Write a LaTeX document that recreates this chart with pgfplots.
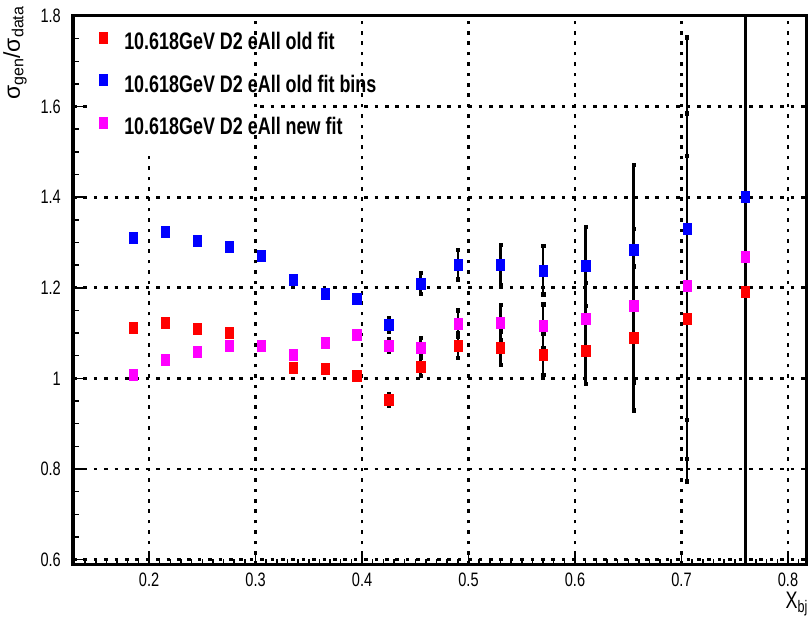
\documentclass[border=0pt]{standalone}
\usepackage{fontspec}
\setmainfont{Liberation Sans}[FakeStretch=0.75]
\newfontfamily\plainfont{Liberation Sans}
\usepackage{pgfplots}
\pgfplotsset{compat=1.18}
\usepackage{pgfplotstable}
\definecolor{rootred}{RGB}{255,0,0}
\definecolor{rootblue}{RGB}{0,0,255}
\definecolor{rootmag}{RGB}{255,0,255}

\pgfplotstableread{
x y e
0.185 1.112 0.0044
0.215 1.123 0.0045
0.245 1.110 0.0044
0.275 1.101 0.0044
0.305 1.073 0.0043
0.335 1.024 0.0041
0.365 1.021 0.0041
0.395 1.007 0.0040
0.425 0.953 0.0124
0.455 1.026 0.0195
0.490 1.073 0.0279
0.530 1.067 0.0373
0.570 1.053 0.0453
0.610 1.062 0.0743
0.655 1.089 0.159
0.705 1.132 0.359
0.760 1.192 0.954
}\redtab

\pgfplotstableread{
x y e
0.185 1.310 0.0052
0.215 1.325 0.0053
0.245 1.304 0.0052
0.275 1.291 0.0052
0.305 1.271 0.0051
0.335 1.218 0.0049
0.365 1.187 0.0047
0.395 1.177 0.0047
0.425 1.118 0.0145
0.455 1.210 0.0230
0.490 1.251 0.0325
0.530 1.251 0.0438
0.570 1.239 0.0533
0.610 1.248 0.0874
0.655 1.284 0.1875
0.705 1.331 0.422
0.760 1.401 1.121
}\bluetab

\pgfplotstableread{
x y e
0.185 1.008 0.0040
0.215 1.041 0.0042
0.245 1.059 0.0042
0.275 1.073 0.0043
0.305 1.072 0.0043
0.335 1.053 0.0042
0.365 1.080 0.0043
0.395 1.096 0.0044
0.425 1.073 0.0139
0.455 1.069 0.0203
0.490 1.121 0.0291
0.530 1.124 0.0393
0.570 1.116 0.0480
0.610 1.132 0.0792
0.655 1.161 0.1695
0.705 1.204 0.3817
0.760 1.268 1.014
}\magtab

\begin{document}
\begin{tikzpicture}
\begin{axis}[
  scale only axis, width=733bp, height=549bp,
  xmin=0.1286, xmax=0.8169, ymin=0.588, ymax=1.8,
  xtick={0.2,0.3,0.4,0.5,0.6,0.7,0.8},
  ytick={0.6,0.8,1,1.2,1.4,1.6,1.8},
  minor xtick={0.13,0.14,...,0.81},
  minor ytick={0.6,0.65,...,1.8},
  xtick pos=lower, ytick pos=left,
  tick align=inside,
  major tick length=12bp, minor tick length=6bp,
  tick style={black, line width=1.5bp},
  axis line style={line width=3bp},
  grid=major,
  major grid style={black, line width=2.8bp, dash pattern=on 3.5bp off 6.9bp},
  /pgf/number format/assume math mode=true,
  ticklabel style={font=\fontsize{19.5}{22}\selectfont},
  xticklabel style={inner sep=0pt, anchor=north, yshift=-8bp},
  yticklabel style={inner sep=0pt, anchor=east, xshift=-12bp},
  legend style={at={(rel axis cs:0.0355,0.971)}, anchor=north west, draw=none, fill=none,
    inner sep=0pt, outer sep=0pt, row sep=19.5bp, column sep=17bp,
    font=\fontsize{24}{28}\selectfont\bfseries,
    nodes={inner sep=0pt, text height=18bp, text depth=5bp}},
  legend cell align=left,
  legend image code/.code={\draw[#1] plot coordinates {(0bp,6bp)};},
]
\fill[white] (axis cs:0.1427,1.505) rectangle (axis cs:0.2982,1.797);

\addplot[only marks, mark=none, forget plot, error bars/.cd, y dir=both, y explicit,
  error bar style={draw=black, line width=2.5bp},
  error mark=square*, error mark options={black, mark size=1.7bp}]
  table[x=x, y=y, y error=e] {\redtab};
\addplot[only marks, mark=none, forget plot, error bars/.cd, y dir=both, y explicit,
  error bar style={draw=black, line width=2.5bp},
  error mark=square*, error mark options={black, mark size=1.7bp}]
  table[x=x, y=y, y error=e] {\bluetab};
\addplot[only marks, mark=none, forget plot, error bars/.cd, y dir=both, y explicit,
  error bar style={draw=black, line width=2.5bp},
  error mark=square*, error mark options={black, mark size=1.7bp}]
  table[x=x, y=y, y error=e] {\magtab};

\addplot[only marks, mark=square*, mark size=5.5bp, color=rootred,
  mark options={xscale=0.75, fill=rootred, draw=rootred, line width=0.2bp}]
  table[x=x, y=y] {\redtab};
\addlegendentry{10.618GeV D2 eAll old fit}
\addplot[only marks, mark=square*, mark size=5.5bp, color=rootblue,
  mark options={xscale=0.75, fill=rootblue, draw=rootblue, line width=0.2bp}]
  table[x=x, y=y] {\bluetab};
\addlegendentry{10.618GeV D2 eAll old fit bins}
\addplot[only marks, mark=square*, mark size=5.5bp, color=rootmag,
  mark options={xscale=0.75, fill=rootmag, draw=rootmag, line width=0.2bp}]
  table[x=x, y=y] {\magtab};
\addlegendentry{10.618GeV D2 eAll new fit}
\end{axis}

\node[rotate=90, anchor=south east, inner sep=0pt, font=\plainfont\fontsize{23}{27}\selectfont]
  at ([xshift=-46bp, yshift=10bp]current axis.north west) {σ\textsubscript{gen}/σ\textsubscript{data}};
\node[anchor=north east, inner sep=0pt, font=\fontsize{24}{28}\selectfont]
  at ([xshift=2bp, yshift=-27bp]current axis.south east) {X\textsubscript{bj}};

\pgfresetboundingbox
\path ([xshift=-73bp, yshift=-52bp]current axis.south west) rectangle ([xshift=2bp, yshift=16bp]current axis.north east);
\end{tikzpicture}
\end{document}
